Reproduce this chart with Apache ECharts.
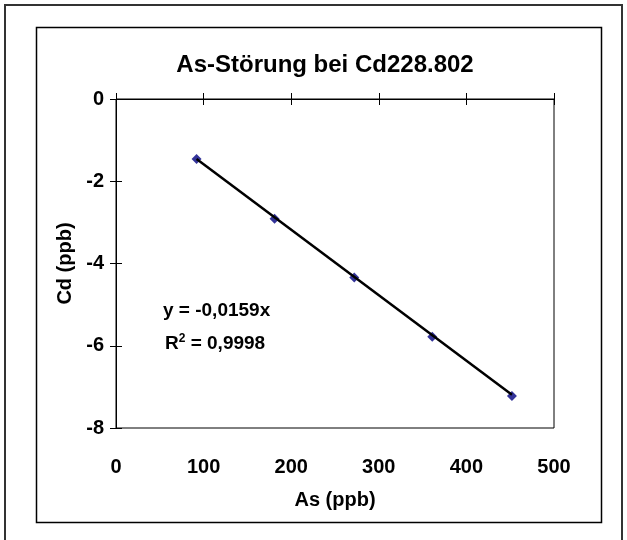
<!DOCTYPE html>
<html>
<head>
<meta charset="utf-8">
<script src="https://cdn.jsdelivr.net/npm/echarts@6/dist/echarts.min.js"></script>
<style>
html,body{margin:0;padding:0;background:#fff;}
#c{width:627px;height:540px;}
</style>
</head>
<body>
<div id="c"></div>
<script>
// Data
var asPpb = [92, 181, 272, 361, 452];
var cdPpb = [-1.46, -2.91, -4.34, -5.78, -7.22];
var trendX = [92, 452];
var trendY = [-1.46, -7.19];
var xTicks = [0, 100, 200, 300, 400, 500];
var yTicks = [-8, -6, -4, -2, 0];
var titleText = 'As-Störung bei Cd228.802';
var xName = 'As (ppb)';
var yName = 'Cd (ppb)';
var eqLine1 = 'y = -0,0159x';

var FONT = '"Liberation Sans", Arial, sans-serif';
var points = asPpb.map(function (x, i) { return [x, cdPpb[i]]; });
var trend = trendX.map(function (x, i) { return [x, trendY[i]]; });

var chart = echarts.init(document.getElementById('c'), null, {renderer: 'canvas'});
var axBase = {
  type: 'value', min: xTicks[0], max: xTicks[xTicks.length - 1], interval: 100,
  splitLine: {show: false}
};
var ayBase = {
  type: 'value', min: yTicks[0], max: yTicks[yTicks.length - 1], interval: 2,
  splitLine: {show: false}
};
var option = {
  animation: false,
  backgroundColor: '#fff',
  title: {
    text: titleText, left: 320, top: 48, textAlign: 'center',
    textStyle: {fontFamily: FONT, fontWeight: 'bold', fontSize: 24, color: '#000'}
  },
  grid: {left: 116, top: 99, width: 438, height: 329, show: true, borderColor: '#000', borderWidth: 1, backgroundColor: 'transparent'},
  xAxis: [
    Object.assign({}, axBase, {
      position: 'bottom',
      axisLine: {show: false}, axisTick: {show: false},
      axisLabel: {fontFamily: FONT, fontWeight: 'bold', fontSize: 20, color: '#000', margin: 29},
      name: xName, nameLocation: 'middle', nameGap: 62,
      nameTextStyle: {fontFamily: FONT, fontWeight: 'bold', fontSize: 20, color: '#000'}
    }),
    Object.assign({}, axBase, {
      position: 'top',
      axisLine: {show: true, lineStyle: {color: '#000', width: 1}},
      axisTick: {show: true, inside: false, length: 6, lineStyle: {color: '#000'}},
      axisLabel: {show: false}
    }),
    Object.assign({}, axBase, {
      position: 'top',
      axisLine: {show: false},
      axisTick: {show: true, inside: true, length: 6, lineStyle: {color: '#000'}},
      axisLabel: {show: false}
    })
  ],
  yAxis: [
    Object.assign({}, ayBase, {
      position: 'left',
      axisLine: {show: true, lineStyle: {color: '#000', width: 1}},
      axisTick: {show: true, inside: false, length: 6, lineStyle: {color: '#000'}},
      axisLabel: {fontFamily: FONT, fontWeight: 'bold', fontSize: 20, color: '#000', margin: 12},
      name: yName, nameLocation: 'middle', nameGap: 40, nameRotate: 90,
      nameTextStyle: {fontFamily: FONT, fontWeight: 'bold', fontSize: 20, color: '#000'}
    }),
    Object.assign({}, ayBase, {
      position: 'left',
      axisLine: {show: false},
      axisTick: {show: true, inside: true, length: 6, lineStyle: {color: '#000'}},
      axisLabel: {show: false}
    })
  ],
  series: [
    {
      type: 'scatter', xAxisIndex: 0, yAxisIndex: 0, data: points,
      symbol: 'diamond', symbolSize: 10,
      itemStyle: {color: '#000080'}, z: 2
    },
    {
      type: 'line', xAxisIndex: 0, yAxisIndex: 0, data: trend,
      symbol: 'none', lineStyle: {color: '#000', width: 2.5}, z: 3
    }
  ],
  graphic: [
    {type: 'polyline', shape: {points: [[5, 540], [5, 5], [622, 5], [622, 540]]}, style: {stroke: '#333', lineWidth: 2, fill: null}},
    {type: 'rect', shape: {x: 36.5, y: 27.5, width: 565, height: 495}, style: {stroke: '#000', lineWidth: 1.5, fill: null}},
    {type: 'text', left: 163, top: 301, style: {text: eqLine1, font: 'bold 19px ' + FONT, fill: '#000'}},
    {type: 'text', left: 165, top: 333, style: {rich: {r: {fontFamily: FONT, fontWeight: 'bold', fontSize: 19}, s: {fontFamily: FONT, fontWeight: 'bold', fontSize: 12, verticalAlign: 'top', padding: [0, 0, 9, 0]}}, text: '{r|R}{s|2}{r| = 0,9998}', fill: '#000'}}
  ]
};
chart.setOption(option);
</script>
</body>
</html>
